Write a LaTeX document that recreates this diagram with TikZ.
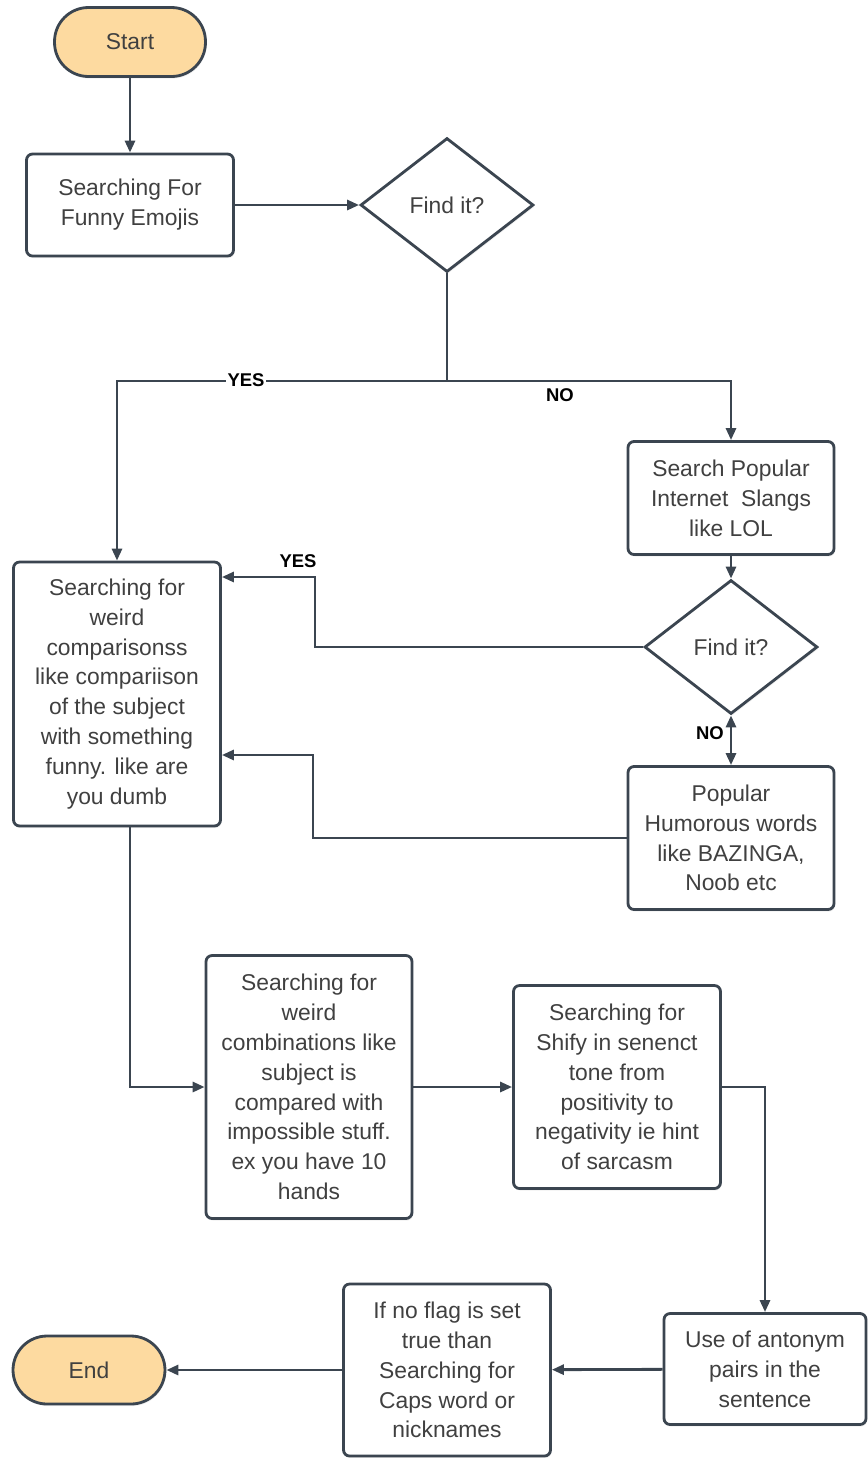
\documentclass[tikz,border=0pt]{standalone}
\usepackage{fontspec}
\setmainfont{Liberation Sans}
\usetikzlibrary{shapes.geometric,arrows.meta,shadows}
\definecolor{edgecol}{RGB}{59,69,80}
\definecolor{termfill}{RGB}{253,218,160}
\definecolor{txtcol}{RGB}{64,64,64}
\tikzset{
  boxtext/.style={font=\fontsize{13}{17}\selectfont,text=txtcol,align=center,inner sep=2pt},
  shade/.style={drop shadow={opacity=0.12,shadow xshift=0.6pt,shadow yshift=-1.2pt}},
  terminal/.style={boxtext,draw=edgecol,line width=1.6pt,fill=termfill,rounded corners=0.68cm,shade},
  procbox/.style={boxtext,draw=edgecol,line width=1.6pt,fill=white,rounded corners=0.12cm,shade},
  decision/.style={boxtext,diamond,draw=edgecol,line width=1.6pt,fill=white,
    minimum width=3.46cm,minimum height=2.68cm,shade},
  link/.style={draw=edgecol,line width=1.6pt},
  flow/.style={link,-{Triangle[length=2.4mm,width=2mm]}},
  both/.style={link,{Triangle[length=2.4mm,width=2mm]}-{Triangle[length=2.4mm,width=2mm]}},
  answer/.style={font=\fontsize{10.5}{12}\selectfont\bfseries,text=black,inner sep=1pt}
}

\begin{document}
\begin{tikzpicture}[x=0.02cm,y=-0.02cm]
\useasboundingbox (0,0) rectangle (868,1458);

% Top: start and first check
\node[terminal,minimum width=3.02cm,minimum height=1.38cm] (start) at (130,42) {Start};
\node[procbox,minimum width=4.14cm,minimum height=2.04cm] (emoji) at (130,205) {Searching For\\Funny Emojis};
\node[decision] (find1) at (447,205) {Find it?};

% Right column
\node[procbox,minimum width=4.12cm,minimum height=2.26cm] (slang) at (731,498) {Search Popular\\Internet~ Slangs\\like LOL};
\node[decision] (find2) at (731,647) {Find it?};
\node[procbox,minimum width=4.12cm,minimum height=2.86cm] (humor) at (731,838) {Popular\\Humorous words\\like BAZINGA,\\Noob etc};

% Left column
\node[procbox,minimum width=4.14cm,minimum height=5.28cm] (comp) at (117,694) {Searching for\\weird\\comparisonss\\like compariison\\of the subject\\with something\\funny. like are\\you dumb};

% Middle row
\node[procbox,minimum width=4.12cm,minimum height=5.26cm] (comb) at (309,1087) {Searching for\\weird\\combinations like\\subject is\\compared with\\impossible stuff.\\ex you have 10\\hands};
\node[procbox,minimum width=4.14cm,minimum height=4.06cm] (shift) at (617,1087) {Searching for\\Shify in senenct\\tone from\\positivity to\\negativity ie hint\\of sarcasm};

% Bottom row
\node[procbox,minimum width=4.04cm,minimum height=2.22cm] (antonym) at (765,1369) {Use of antonym\\pairs in the\\sentence};
\node[procbox,minimum width=4.14cm,minimum height=3.44cm] (flag) at (447,1370) {If no flag is set\\true than\\Searching for\\Caps word or\\nicknames};
\node[terminal,minimum width=3.04cm,minimum height=1.36cm] (end) at (89,1370) {End};

% Bend points
\coordinate (split) at (447,381);
\coordinate (yesbend) at (315,577);
\coordinate (humbend) at (313,755);
\coordinate (combbend) at (130,1087);

% Connectors
\draw[flow] (start) -- (emoji);
\draw[flow] (emoji) -- (find1);
\draw[link] (find1.south) -- (split);
\draw[flow] (split) -| (comp.north);
\draw[flow] (split) -| (slang.north);
\draw[flow] (slang) -- (find2);
\draw[flow] (find2.west) -| (yesbend) -- (comp.east |- yesbend);
\draw[both] (find2.south) -- (humor.north);
\draw[flow] (humor.west) -| (humbend) -- (comp.east |- humbend);
\draw[flow] (comp.south -| combbend) |- (comb.west);
\draw[flow] (comb) -- (shift);
\draw[flow] (shift.east) -| (antonym.north);
\draw[flow] (antonym) -- (flag);
\draw[flow] (flag) -- (end);

% Answer labels
\node[answer,fill=white] (yes1) at (246,380) {YES};
\node[answer] (no1) at (560,395) {NO};
\node[answer] (yes2) at (298,561) {YES};
\node[answer] (no2) at (710,733) {NO};

\end{tikzpicture}
\end{document}
